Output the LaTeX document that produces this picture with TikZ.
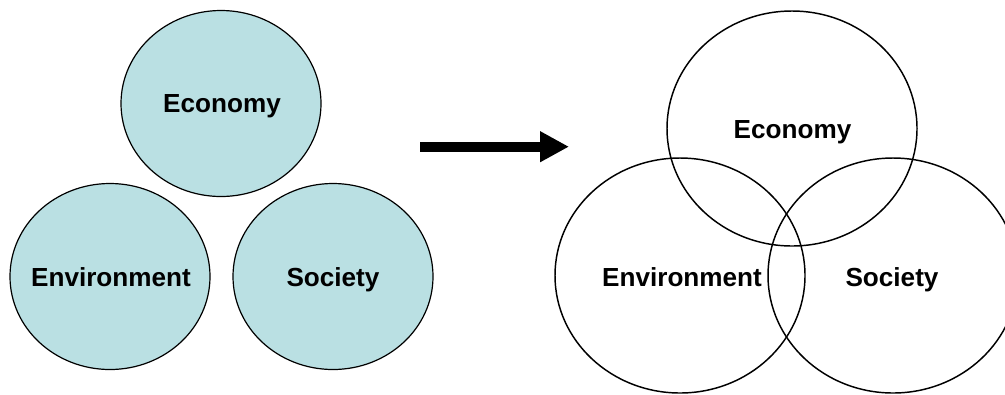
\documentclass[tikz,border=0pt]{standalone}
\usepackage{fontspec}
\setmainfont{Liberation Sans}
\usetikzlibrary{shapes.geometric,arrows.meta}
\definecolor{paleteal}{RGB}{186,224,227}
\tikzset{
  pillar/.style={ellipse, draw=black, line width=0.9pt, fill=paleteal,
    minimum width=200*0.75pt, minimum height=186*0.75pt, inner sep=0pt},
  ring/.style={ellipse, draw=black, line width=1.1pt,
    minimum width=250*0.75pt, minimum height=235*0.75pt, inner sep=0pt},
  tag/.style={font=\bfseries\fontsize{19.6pt}{22pt}\selectfont, inner sep=0pt, anchor=base},
  bigarrow/.style={line width=10*0.75pt,
    -{Triangle[length=29*0.75pt, width=29*0.75pt]}}
}
\begin{document}
\begin{tikzpicture}[x=0.75pt, y=-0.75pt]
  \useasboundingbox (0,0) rectangle (1005,394);
  % separate pillars
  \node[pillar] (ecoL) at (221,103.5) {};
  \node[pillar] (envL) at (110,276.5) {};
  \node[pillar] (socL) at (333,276.5) {};
  \node[tag] (ecoLt) at (222,112.7) {Economy};
  \node[tag] (envLt) at (111,286.7) {Environment};
  \node[tag] (socLt) at (333,286.7) {Society};
  % transition arrow
  \coordinate (arrS) at (420,146.7);
  \coordinate (arrE) at (569,146.7);
  \draw[bigarrow] (arrS) -- (arrE);
  % overlapping rings
  \node[ring] (ecoR) at (792,128.5) {};
  \node[ring] (envR) at (680,275.5) {};
  \node[ring] (socR) at (893,275.5) {};
  \node[tag] (ecoRt) at (792.5,138.3) {Economy};
  \node[tag] (envRt) at (682,286.7) {Environment};
  \node[tag] (socRt) at (892,286.7) {Society};
\end{tikzpicture}
\end{document}
